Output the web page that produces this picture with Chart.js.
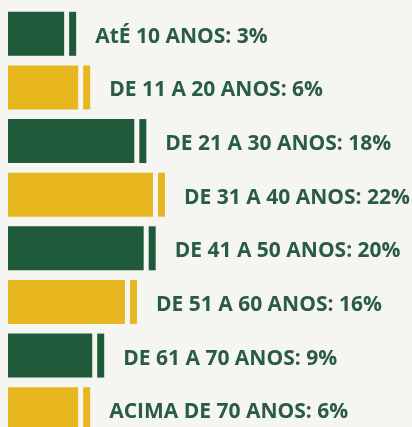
<!DOCTYPE html>
<html>
<head>
<meta charset="utf-8">
<script src="https://cdn.jsdelivr.net/npm/chart.js@4"></script>
<style>
  html, body { margin: 0; padding: 0; background: #f5f5f2; overflow: hidden; }
  #wrap { width: 412px; height: 442px; }
</style>
</head>
<body>
<div id="wrap"><canvas id="myChart"></canvas></div>
<script>
// faixas etárias e percentuais
const faixas = ['AtÉ 10 ANOS', 'DE 11 A 20 ANOS', 'DE 21 A 30 ANOS', 'DE 31 A 40 ANOS',
                'DE 41 A 50 ANOS', 'DE 51 A 60 ANOS', 'DE 61 A 70 ANOS', 'ACIMA DE 70 ANOS'];
const percentuais = [3, 6, 18, 22, 20, 16, 9, 6];

const verde = '#1f5a3b';
const amarelo = '#e8b720';
const cores = faixas.map((f, i) => i % 2 === 0 ? verde : amarelo);

// filete fino depois de cada barra + texto
const filetePlugin = {
    id: 'filete',
    afterDatasetsDraw(chart) {
        const ctx = chart.ctx;
        const meta = chart.getDatasetMeta(0);
        ctx.save();
        meta.data.forEach((bar, i) => {
            const h = bar.height;
            const x0 = bar.x + 5;
            ctx.fillStyle = cores[i];
            ctx.fillRect(x0, bar.y - h / 2, 7, h);
            ctx.fillStyle = '#2a5c41';
            ctx.font = 'bold 21px "Open Sans"';
            ctx.textBaseline = 'middle';
            ctx.fillText(faixas[i] + ': ' + percentuais[i] + '%', x0 + 7 + 19, bar.y + 3);
        });
        ctx.restore();
    }
};

const ctx = document.getElementById('myChart').getContext('2d');
const myChart = new Chart(ctx, {
    type: 'bar',
    data: {
        labels: faixas,
        datasets: [{
            data: percentuais,
            backgroundColor: cores,
            borderWidth: 0,
            base: -9,
            barPercentage: 0.82,
            categoryPercentage: 1
        }]
    },
    plugins: [filetePlugin],
    options: {
        indexAxis: 'y',
        responsive: true,
        maintainAspectRatio: false,
        animation: false,
        layout: { padding: { left: 8, right: 11, top: 7, bottom: 6 } },
        plugins: {
            legend: { display: false },
            tooltip: { enabled: false }
        },
        scales: {
            x: { display: false, min: -9, max: 75 },
            y: { display: false }
        }
    }
});
</script>
</body>
</html>
